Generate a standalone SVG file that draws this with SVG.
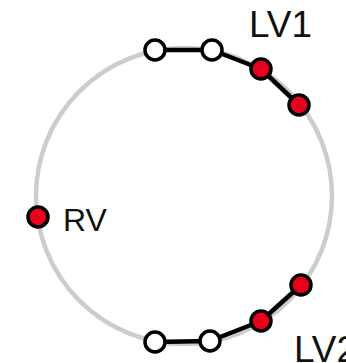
<svg xmlns="http://www.w3.org/2000/svg" width="346" height="363" viewBox="0 0 346 363">
<style>
.ring{fill:none;stroke:#cccccc;stroke-width:4.5}
.edge{stroke:#000;stroke-width:4.5;stroke-linecap:round}
.open{fill:#fff;stroke:#000;stroke-width:3.5}
.red{fill:#e8001c;stroke:#000;stroke-width:3.5}
.lbl{font-family:"Liberation Sans",Arial,sans-serif;fill:#111}
</style>
<rect width="346" height="363" fill="#fff"/>
<circle class="ring" cx="184" cy="196" r="148"/>
<g id="connectors">
<line class="edge" x1="155" y1="50" x2="212" y2="50"/>
<line class="edge" x1="212" y1="50" x2="261" y2="69"/>
<line class="edge" x1="261" y1="69" x2="299" y2="105"/>
<line class="edge" x1="155" y1="342" x2="210" y2="341"/>
<line class="edge" x1="210" y1="341" x2="261" y2="321"/>
<line class="edge" x1="261" y1="321" x2="301" y2="285"/>
</g>
<g id="lv1-open1"><circle class="open" cx="155" cy="50" r="10"/></g>
<g id="lv1-open2"><circle class="open" cx="212" cy="50" r="10"/></g>
<g id="lv1-red1"><circle class="red" cx="261" cy="69" r="10"/></g>
<g id="lv1-red2"><circle class="red" cx="299" cy="105" r="10"/></g>
<g id="lv2-open1"><circle class="open" cx="155" cy="342" r="10"/></g>
<g id="lv2-open2"><circle class="open" cx="210" cy="341" r="10"/></g>
<g id="lv2-red1"><circle class="red" cx="261" cy="321" r="10"/></g>
<g id="lv2-red2"><circle class="red" cx="301" cy="285" r="10"/></g>
<g id="rv"><circle class="red" cx="38" cy="217" r="10"/></g>
<g id="labels">
<text class="lbl" x="249" y="37" font-size="37" textLength="63" lengthAdjust="spacingAndGlyphs">LV1</text>
<text class="lbl" x="63" y="231" font-size="32">RV</text>
<text class="lbl" x="294" y="362" font-size="37" textLength="63" lengthAdjust="spacingAndGlyphs">LV2</text>
</g>
</svg>
